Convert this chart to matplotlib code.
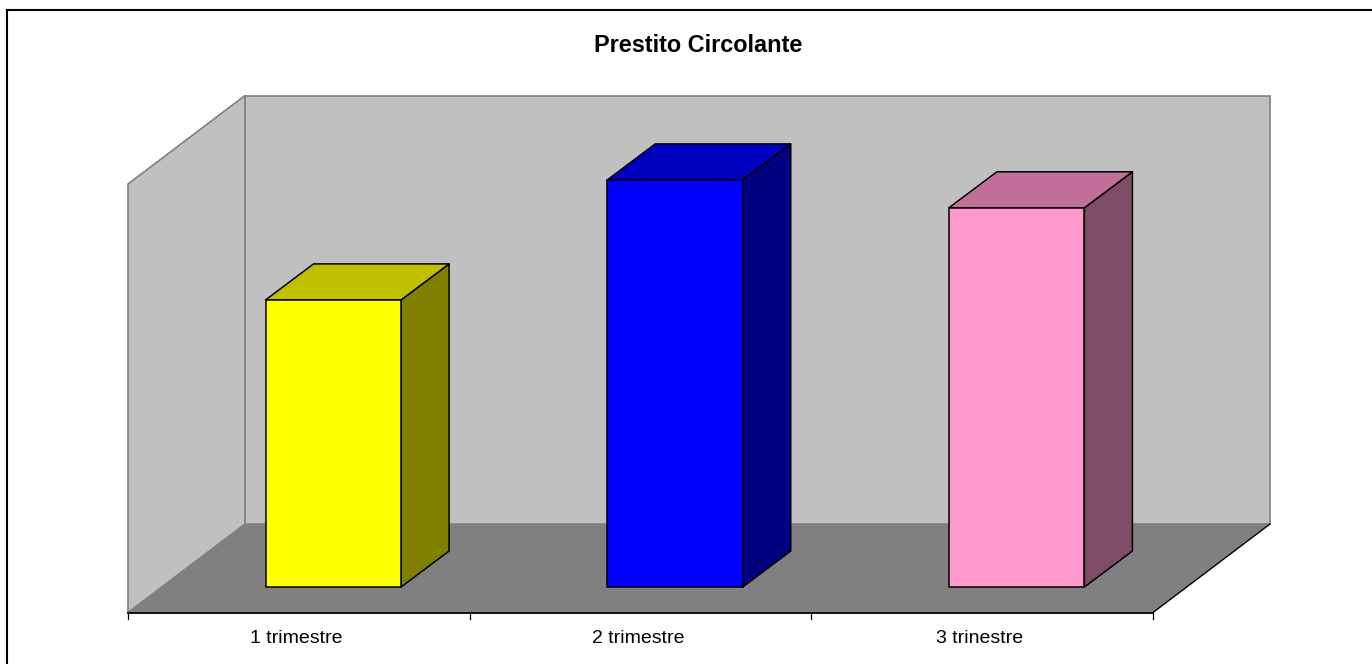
import matplotlib
matplotlib.use("Agg")
import matplotlib.pyplot as plt
from matplotlib.lines import Line2D
from matplotlib.patches import Polygon, Rectangle

plt.rcParams['font.family'] = ['Liberation Sans', 'DejaVu Sans']

categories = ["1 trimestre", "2 trimestre", "3 trinestre"]
values = [67, 95, 88.5]
front_colors = ["#ffff00", "#0000ff", "#ff99cc"]
top_colors = ["#c0c000", "#0000c0", "#c07098"]
side_colors = ["#808000", "#000080", "#804d66"]

W, H = 1372, 664
ymax = 100
fig = plt.figure(figsize=(W / 100, H / 100), dpi=100, facecolor="white")
ax = fig.add_axes([128 / W, (H - 612.5) / H, 1025 / W, 428.5 / H])
ax.set_xlim(0, len(categories))
ax.set_ylim(0, ymax)
ax.axis("off")

# one pixel in data units
px = len(categories) / 1025
py = ymax / 428.5

# walls and floor
dx, dy = 117 * px, 88.5 * py
wall = "#c0c0c0"
ax.add_patch(Polygon([(0, 0), (dx, dy), (dx, ymax + dy), (0, ymax)], fc=wall, ec="#808080", lw=1.2, clip_on=False))
ax.add_patch(Polygon([(dx, dy), (3 + dx, dy), (3 + dx, ymax + dy), (dx, ymax + dy)], fc=wall, ec="#808080", lw=1.2, clip_on=False))
ax.add_patch(Polygon([(0, 0), (3, 0), (3 + dx, dy), (dx, dy)], fc="#808080", ec="none", clip_on=False))
ax.plot([3, 3 + dx], [0, dy], color="black", lw=1, clip_on=False)
ax.plot([0, 3], [0, 0], color="black", lw=1.3, clip_on=False)
for i in range(len(categories) + 1):
    ax.plot([i, i], [0, -6 * py], color="black", lw=0.9, clip_on=False)

# bars
bw = 135.5 * px
ox, oy = 34.5 * px, 25.5 * py
ddx, ddy = 48 * px, 36 * py
for i, v in enumerate(values):
    x0 = i + 0.5 - bw / 2 + ox
    x1 = x0 + bw
    y0 = oy
    y1 = oy + v
    ax.add_patch(Polygon([(x1, y0), (x1 + ddx, y0 + ddy), (x1 + ddx, y1 + ddy), (x1, y1)],
                         fc=side_colors[i], ec="black", lw=1.1, clip_on=False, joinstyle="round"))
    ax.add_patch(Polygon([(x0, y1), (x1, y1), (x1 + ddx, y1 + ddy), (x0 + ddx, y1 + ddy)],
                         fc=top_colors[i], ec="black", lw=1.1, clip_on=False, joinstyle="round"))
    ax.add_patch(Rectangle((x0, y0), bw, v, fc=front_colors[i], ec="black", lw=1.1, clip_on=False))
    ax.text(i + 0.5 - 2.5 * px, -26 * py, categories[i], ha="center", va="center", fontsize=14, color="black", clip_on=False)

fig.text(698 / W, 1 - 45 / H, "Prestito Circolante", ha="center", va="center", fontsize=16.9, fontweight="bold")

# chart border, only top and left show
fig.add_artist(Line2D([6.5 / W, 6.5 / W, 1], [0, 1 - 10 / H, 1 - 10 / H], transform=fig.transFigure,
                      color="black", lw=1.5, solid_joinstyle="miter"))

fig.savefig("out.png", dpi=100)
